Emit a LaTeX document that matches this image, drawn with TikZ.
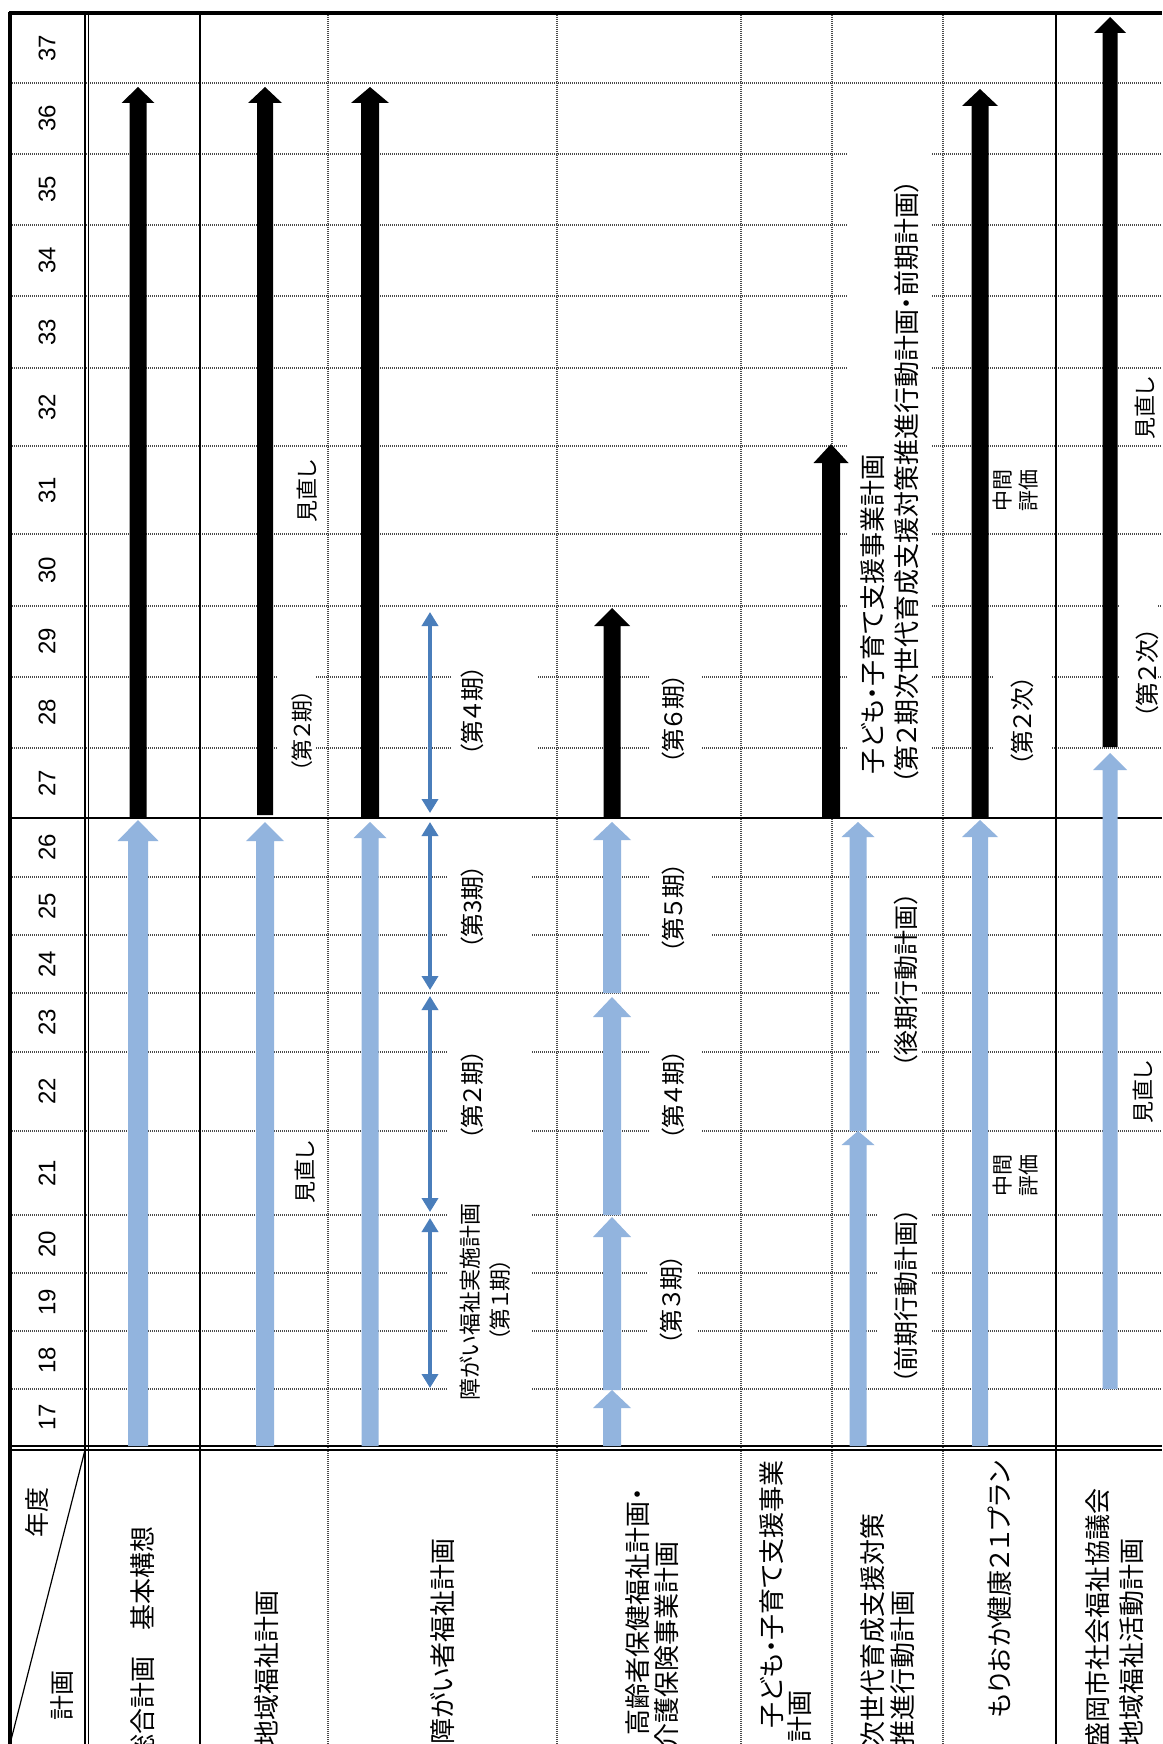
\documentclass[tikz,border=0pt]{standalone}
\usepackage{fontspec}
\setmainfont{Noto Sans CJK JP}[RawFeature=+palt]
\newfontfamily\numfont{Liberation Sans}
\usetikzlibrary{arrows.meta}
\definecolor{lblue}{HTML}{92B4DE}
\definecolor{sblue}{HTML}{4A7EBB}
\definecolor{gridc}{HTML}{4A4A4A}
% block arrow: #1 colour, #2 x, #3 y bottom, #4 y tip, #5 shaft half width, #6 head half width, #7 head length
\newcommand\blockarrow[7]{%
  \fill[#1] ({#2-#5},#3) -- ({#2-#5},{#4+#7}) -- ({#2-#6},{#4+#7}) -- (#2,#4)
    -- ({#2+#6},{#4+#7}) -- ({#2+#5},{#4+#7}) -- ({#2+#5},#3) -- cycle;}
\begin{document}
\begin{tikzpicture}[x=0.5pt,y=-0.5pt,
  gridline/.style={draw=gridc,line width=0.8pt,dash pattern=on 0.5pt off 0.5pt},
  rule/.style={draw=black,line width=1pt},
  border/.style={draw=black,line width=2pt},
  dbl/.style={draw=black,line width=0.65pt},
  thinarrow/.style={draw=sblue,line width=1.9pt,arrows={Triangle[width=8pt,length=7pt]-Triangle[width=8pt,length=7pt]}},
  yearlbl/.style={rotate=90,font=\numfont\fontsize{12}{12}\selectfont,inner sep=0pt},
  hdr/.style={rotate=90,font=\fontsize{13}{15}\selectfont,inner sep=0pt,anchor=east},
  lbl/.style={rotate=90,font=\fontsize{12}{14}\selectfont,inner sep=0pt},
  lblsmall/.style={rotate=90,font=\fontsize{11}{13}\selectfont,inner sep=0pt},
  lbltiny/.style={rotate=90,font=\fontsize{10.5}{13}\selectfont,inner sep=0pt,align=center},
  lblbig/.style={rotate=90,font=\fontsize{13}{15}\selectfont,inner sep=0pt,anchor=west},
  lblmid/.style={rotate=90,font=\fontsize{12.5}{14}\selectfont,inner sep=0pt}
]
\useasboundingbox (0,0) rectangle (1162,1744);
\fill[white] (0,0) rectangle (1162,1744);
\clip (0,0) rectangle (1162,1744);

% dotted grid
\foreach \yy in {83,154,225,296,368,446,534,606,677,748,877,935,993,1052,1131,1215,1273,1331,1389}
  \draw[gridline] (10,\yy) -- (1162,\yy);
\foreach \xx in {328,557,741,832,943}
  \draw[gridline] (\xx,13) -- (\xx,1744);

% white gaps behind labels
\fill[white] (277,660) rectangle (315,765);
\fill[white] (452,660) rectangle (537,765);
\fill[white] (447,860) rectangle (532,950);
\fill[white] (447,1040) rectangle (532,1145);
\fill[white] (447,1205) rectangle (532,1400);
\fill[white] (647,1240) rectangle (698,1365);
\fill[white] (650,1040) rectangle (702,1145);
\fill[white] (650,860) rectangle (712,950);
\fill[white] (650,660) rectangle (702,765);
\fill[white] (847,140) rectangle (932,795);
\fill[white] (880,940) rectangle (922,1060);
\fill[white] (878,1205) rectangle (932,1340);
\fill[white] (993,660) rectangle (1052,765);
\fill[white] (1120,595) rectangle (1158,690);

% solid rules
\draw[rule] (10,818) -- (1162,818);
\draw[rule] (200,13) -- (200,1744);
\draw[rule] (1056,13) -- (1056,1744);
\draw[dbl] (10,1446) -- (1162,1446);
\draw[dbl] (10,1450) -- (1162,1450);
\draw[dbl] (85,13) -- (85,1744);
\draw[dbl] (88.5,13) -- (88.5,1744);
\draw[border] (9,13) -- (1162,13);
\draw[border] (10,12) -- (10,1744);
\draw[line width=0.6pt] (85,1450) -- (10,1744);

% blue block arrows
\blockarrow{lblue}{138}{1446}{820}{10}{20.5}{21}
\blockarrow{lblue}{265}{1446}{822}{9}{19}{19}
\blockarrow{lblue}{370}{1446}{822}{8.5}{16.5}{16}
\blockarrow{lblue}{612}{1446}{1390}{9}{19}{18}
\blockarrow{lblue}{612}{1390}{1217}{9}{19}{20}
\blockarrow{lblue}{612}{1215}{997}{9}{19}{20}
\blockarrow{lblue}{612}{993}{822}{9}{19}{18}
\blockarrow{lblue}{858}{1446}{1131}{8.5}{16.5}{14}
\blockarrow{lblue}{858}{1131}{822}{8.5}{16.5}{15}
\blockarrow{lblue}{980}{1446}{820}{8}{18}{17}
\blockarrow{lblue}{1110}{1389}{753}{7.5}{17}{17}

% black block arrows
\blockarrow{black}{138}{817}{87}{8.5}{16.5}{16}
\blockarrow{black}{265}{815}{87}{8}{17}{16}
\blockarrow{black}{370}{818}{87}{9}{19}{16}
\blockarrow{black}{612}{817}{608}{8.5}{18}{18}
\blockarrow{black}{831}{818}{444}{9}{17.5}{19}
\blockarrow{black}{980}{818}{89}{8.5}{18}{17}
\blockarrow{black}{1110}{747}{17}{7.5}{16}{16}

% thin double arrows (障がい福祉実施計画)
\coordinate (d1s) at (430,1388); \coordinate (d1e) at (430,1218);
\coordinate (d2s) at (430,1212); \coordinate (d2e) at (430,996);
\coordinate (d3s) at (430,990);  \coordinate (d3e) at (430,822);
\coordinate (d4s) at (430,813);  \coordinate (d4e) at (430,612);
\draw[thinarrow] (d1s) -- (d1e);
\draw[thinarrow] (d2s) -- (d2e);
\draw[thinarrow] (d3s) -- (d3e);
\draw[thinarrow] (d4s) -- (d4e);

% year labels
\foreach \n/\yy in {37/48,36/118.5,35/189.5,34/260.5,33/332,32/407,31/490,30/570,29/641.5,28/712.5,27/783,26/847.5,25/906,24/964,23/1022.5,22/1091.5,21/1173,20/1244,19/1302,18/1360,17/1417.5}
  \node[yearlbl] (y\n) at (47,\yy) {\n};

% header
\node[rotate=90,font=\fontsize{12.5}{14}\selectfont,inner sep=0pt] (hnendo) at (37,1512) {年度};
\node[rotate=90,font=\fontsize{12.5}{14}\selectfont,inner sep=0pt] (hkeikaku) at (62,1695) {計画};
\node[hdr] (p1) at (143,1526) {総合計画　基本構想};
\node[hdr] (p2) at (267,1590) {地域福祉計画};
\node[hdr] (p3) at (443,1538) {障がい者福祉計画};
\node[hdr] (p4a) at (638,1488) {高齢者保健福祉計画・};
\node[hdr] (p4b) at (667,1541) {介護保険事業計画};
\node[hdr] (p5a) at (772,1460) {子ども・子育て支援事業};
\node[hdr] (p5b) at (800,1690) {計画};
\node[hdr] (p6a) at (873,1513) {次世代育成支援対策};
\node[hdr] (p6b) at (903,1590) {推進行動計画};
\node[hdr] (p7) at (1000,1461) {もりおか健康２１プラン};
\node[hdr] (p8a) at (1098,1488) {盛岡市社会福祉協議会};
\node[hdr] (p8b) at (1132,1538) {地域福祉活動計画};

% labels
\node[lblsmall] (m2a) at (307,491) {見直し};
\node[lblsmall] (m2b) at (305,1172) {見直し};
\node[lblsmall] (k2) at (302,731) {（第２期）};
\node[lblsmall] (s1a) at (470,1302) {障がい福祉実施計画};
\node[lblsmall] (s1b) at (500,1300) {（第１期）};
\node[lbl] (s2) at (472,1095) {（第２期）};
\node[lbl] (s3) at (472,907) {（第3期）};
\node[lbl] (s4) at (472,711) {（第４期）};
\node[lbl] (k3) at (671,1300) {（第３期）};
\node[lbl] (k4) at (673,1095) {（第４期）};
\node[lbl] (k5) at (673,908) {（第５期）};
\node[lbl] (k6) at (673,719) {（第６期）};
\node[lblbig] (c1) at (873,775) {子ども・子育て支援事業計画};
\node[lblbig] (c2) at (907,785) {（第２期次世代育成支援対策推進行動計画・前期計画）};
\node[lblmid] (j1) at (906,1296) {（前期行動計画）};
\node[lblmid] (j2) at (906,980) {（後期行動計画）};
\node[lbltiny] (e1) at (1015,1175) {中間\\評価};
\node[lbltiny] (e2) at (1015,490) {中間\\評価};
\node[lbl] (n7) at (1022,721) {（第２次）};
\node[lblsmall] (m8a) at (1145,408) {見直し};
\node[lblsmall] (m8b) at (1143,1092) {見直し};
\node[lbl] (n8) at (1147,673) {（第２次）};
\end{tikzpicture}
\end{document}
